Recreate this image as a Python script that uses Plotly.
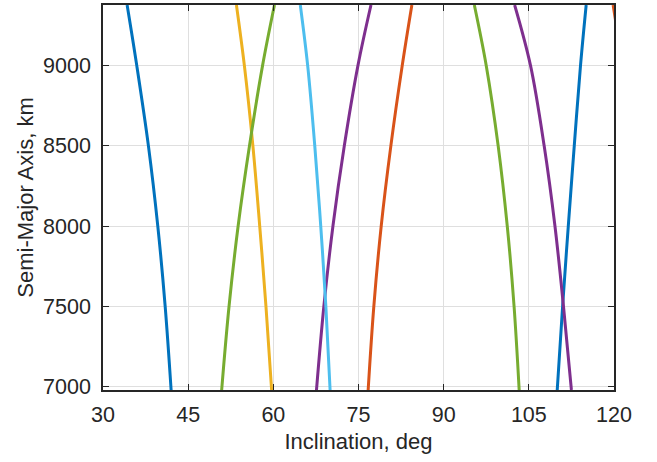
import plotly.graph_objects as go

# Semi-major axis levels (km) at which each branch's inclination is tabulated
sma_km = [6978, 7500, 8000, 8500, 9000, 9378]

# Inclination (deg) of each branch at the levels above
incl_blue_a = [42.0, 40.95, 39.65, 38.0, 35.95, 34.25]
incl_blue_b = [110.0, 110.95, 111.95, 113.0, 114.1, 115.1]
incl_orange_a = [76.7, 77.7, 79.0, 80.7, 82.7, 84.4]
incl_yellow = [59.7, 58.7, 57.6, 56.4, 54.9, 53.5]
incl_purple_a = [67.6, 68.9, 70.5, 72.5, 74.9, 77.2]
incl_purple_b = [112.5, 111.1, 109.6, 107.7, 105.3, 102.5]
incl_green_a = [50.9, 52.2, 53.8, 55.8, 58.1, 60.2]
incl_green_b = [103.3, 102.4, 101.2, 99.6, 97.5, 95.4]
incl_cyan = [70.0, 69.25, 68.35, 67.3, 66.05, 64.75]

# Second orange branch only just enters the window at the top right
sma_orange_b = [9000, 9378]
incl_orange_b = [121.5, 119.85]

x_ticks = [30, 45, 60, 75, 90, 105, 120]
y_ticks = [7000, 7500, 8000, 8500, 9000]

BLUE = "#0072BD"
ORANGE = "#D95319"
YELLOW = "#EDB120"
PURPLE = "#7E2F8E"
GREEN = "#77AC30"
CYAN = "#4DBEEE"

series = [
    (incl_blue_a, sma_km, BLUE),
    (incl_blue_b, sma_km, BLUE),
    (incl_orange_a, sma_km, ORANGE),
    (incl_orange_b, sma_orange_b, ORANGE),
    (incl_yellow, sma_km, YELLOW),
    (incl_purple_a, sma_km, PURPLE),
    (incl_purple_b, sma_km, PURPLE),
    (incl_green_a, sma_km, GREEN),
    (incl_green_b, sma_km, GREEN),
    (incl_cyan, sma_km, CYAN),
]

fig = go.Figure()
for xs, ys, color in series:
    fig.add_trace(go.Scatter(
        x=xs, y=ys, mode="lines",
        line=dict(color=color, width=3, shape="spline", smoothing=1.0),
        showlegend=False, hoverinfo="skip",
    ))

AX = "#262626"
FONT = "Liberation Sans, Arial, Helvetica, sans-serif"

common = dict(
    showline=True, linecolor=AX, linewidth=1.5, mirror="ticks",
    ticks="inside", ticklen=6, tickwidth=1.2, tickcolor=AX,
    showgrid=True, gridcolor="#dfdfdf", gridwidth=1.3,
    zeroline=False,
    tickfont=dict(family=FONT, size=21.5, color=AX),
)

fig.update_xaxes(
    range=[30, 120], tickvals=x_ticks, ticktext=[str(v) for v in x_ticks],
    title=dict(text="Inclination, deg", font=dict(family=FONT, size=22, color=AX), standoff=8),
    ticklabelstandoff=4,
    **common,
)
fig.update_yaxes(
    range=[6978, 9378], tickvals=y_ticks, ticktext=[str(v) for v in y_ticks],
    title=dict(text="Semi-Major Axis, km", font=dict(family=FONT, size=22, color=AX), standoff=3),
    ticklabelstandoff=6,
    **common,
)

fig.update_layout(
    width=657, height=462,
    margin=dict(l=103, r=43, t=3, b=72),
    paper_bgcolor="white", plot_bgcolor="white",
)

fig.write_html("out.html")
